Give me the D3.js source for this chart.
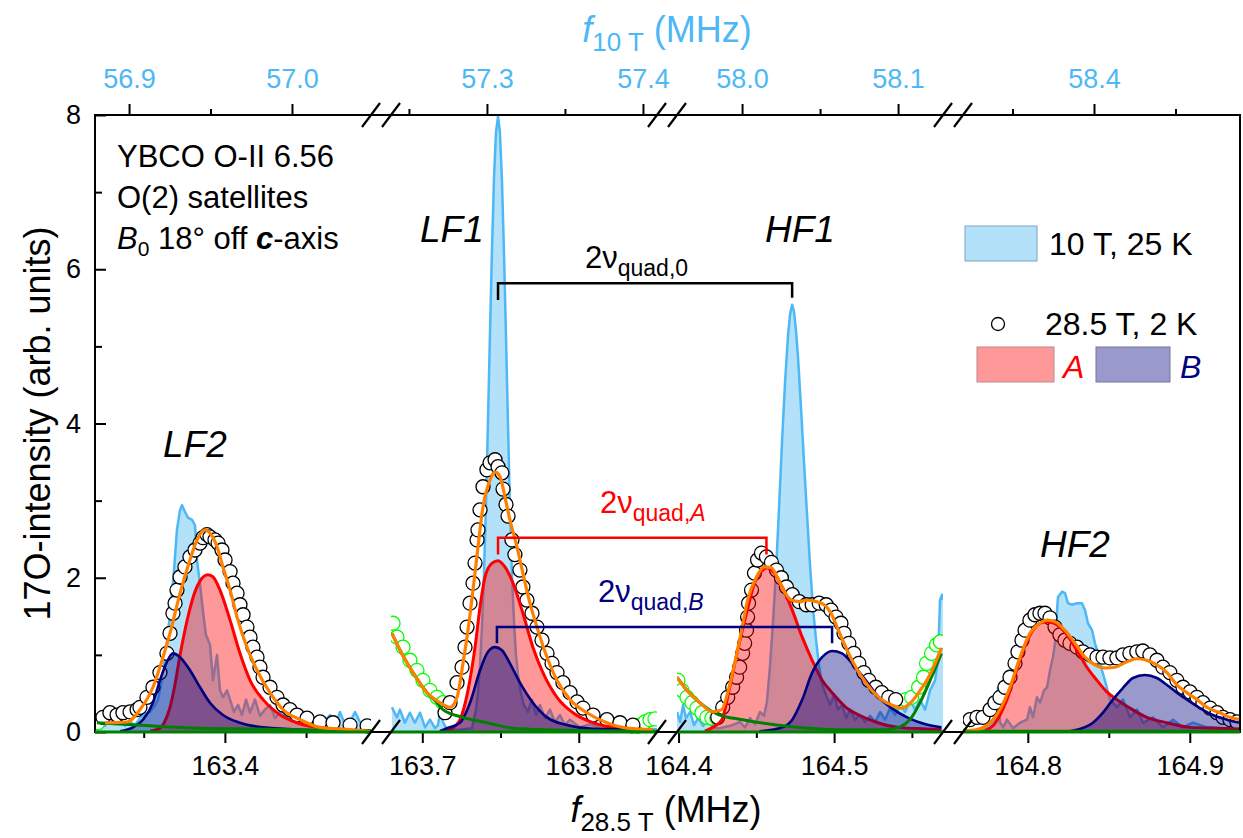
<!DOCTYPE html>
<html><head><meta charset="utf-8">
<script src="https://cdn.jsdelivr.net/npm/d3@7"></script>
<style>
body{margin:0;background:#fff;}
svg text{font-family:"Liberation Sans",Arial,Helvetica,sans-serif;}
</style></head><body>
<svg id="chart" width="1243" height="838"></svg>
<script>
// ---------------- axis data ----------------
const yMajorTicks = [0, 2, 4, 6, 8];
const yMinorTicks = [1, 3, 5, 7];
const bottomDomains = [[163.32, 163.49], [163.68, 163.85], [164.399, 164.57], [164.76, 164.931]];
const topDomains = [[56.8791, 57.0485], [57.2385, 57.409], [57.9583, 58.1288], [58.3196, 58.4896]];
const bottomMajorTicks = [[163.4], [163.7, 163.8], [164.4, 164.5], [164.8, 164.9]];
const bottomMinorTicks = [[163.35, 163.45], [163.75], [164.45, 164.55], [164.85]];
const topMajorTicks = [[56.9, 57.0], [57.3, 57.4], [58.0, 58.1], [58.4]];
const topMinorTicks = [[56.95], [57.25, 57.35], [58.05], [58.35, 58.45]];

// ---------------- 10 T spectrum (f10T, intensity) ----------------
const ten1 = [[56.8791,.10],[56.8822,.18],[56.8853,.08],[56.8883,.21],[56.8914,.10],[56.8945,.17],[56.8975,.08],[56.9006,.13],[56.9037,.09],[56.9067,.18],[56.9098,.23],[56.9129,.26],[56.9160,.35],[56.9178,.42],[56.9202,.67],[56.9227,1.06],[56.9252,1.54],[56.9276,2.10],[56.9294,2.62],[56.9313,2.88],[56.9325,2.94],[56.9344,2.85],[56.9362,2.78],[56.9387,2.75],[56.9405,2.68],[56.9417,2.23],[56.9436,1.91],[56.9454,1.56],[56.9472,1.26],[56.9497,1.13],[56.9515,.67],[56.9540,1.00],[56.9558,.54],[56.9577,.45],[56.9601,.54],[56.9620,.42],[56.9644,.26],[56.9669,.35],[56.9693,.22],[56.9718,.42],[56.9742,.25],[56.9773,.42],[56.9804,.21],[56.9834,.29],[56.9865,.35],[56.9896,.18],[56.9926,.26],[56.9969,.21],[57.0006,.13],[57.0049,.29],[57.0080,.13],[57.0123,.09],[57.0160,.18],[57.0196,.13],[57.0233,.22],[57.0270,.10],[57.0294,.26],[57.0325,.10],[57.0356,.13],[57.0387,.26],[57.0417,.13],[57.0448,.08],[57.0485,.08]];
const ten2 = [[57.2391,.32],[57.2423,.19],[57.2442,.29],[57.2474,.12],[57.2506,.25],[57.2538,.12],[57.2571,.25],[57.2603,.06],[57.2635,.16],[57.2667,.05],[57.2686,.09],[57.2699,.25],[57.2718,.13],[57.2744,.03],[57.2827,.03],[57.2904,.05],[57.2929,.28],[57.2942,.49],[57.2955,.84],[57.2968,1.35],[57.2981,2.06],[57.2994,2.95],[57.3006,3.98],[57.3019,5.13],[57.3032,6.23],[57.3045,7.17],[57.3058,7.78],[57.3071,7.98],[57.3083,7.78],[57.3096,7.17],[57.3109,6.23],[57.3122,5.13],[57.3135,3.98],[57.3147,2.95],[57.3160,2.06],[57.3173,1.45],[57.3186,1.00],[57.3199,.75],[57.3212,.55],[57.3237,.35],[57.3263,.26],[57.3288,.42],[57.3314,.22],[57.3340,.35],[57.3372,.18],[57.3404,.29],[57.3436,.13],[57.3468,.22],[57.3500,.09],[57.3532,.16],[57.3596,.06],[57.3660,.10],[57.3724,.05],[57.3853,.04],[57.4090,.04]];
const ten3 = [[57.9583,.26],[57.9603,.13],[57.9622,.35],[57.9641,.18],[57.9667,.26],[57.9692,.09],[57.9718,.18],[57.9750,.08],[57.9782,.16],[57.9814,.05],[57.9859,.05],[57.9923,.08],[57.9987,.13],[58.0019,.06],[58.0051,.18],[58.0083,.10],[58.0115,.26],[58.0141,.21],[58.0160,.40],[58.0179,.85],[58.0199,1.45],[58.0218,2.10],[58.0237,2.90],[58.0256,3.75],[58.0276,4.55],[58.0295,5.15],[58.0308,5.42],[58.0321,5.54],[58.0333,5.45],[58.0346,5.20],[58.0359,4.85],[58.0378,4.20],[58.0397,3.50],[58.0417,2.80],[58.0436,2.15],[58.0455,1.60],[58.0474,1.20],[58.0494,.85],[58.0513,.62],[58.0538,.48],[58.0564,.35],[58.0590,.48],[58.0615,.29],[58.0641,.35],[58.0667,.18],[58.0692,.29],[58.0724,.16],[58.0756,.22],[58.0788,.13],[58.0821,.21],[58.0853,.13],[58.0885,.26],[58.0917,.16],[58.0949,.31],[58.0981,.22],[58.1013,.35],[58.1045,.26],[58.1077,.42],[58.1109,.29],[58.1141,.42],[58.1173,.29],[58.1205,.54],[58.1237,.67],[58.1256,.93],[58.1269,1.71],[58.1282,1.78],[58.1288,1.71]];
const ten4 = [[58.3196,.03],[58.3270,.01],[58.3331,.04],[58.3362,.09],[58.3393,.16],[58.3411,.58],[58.3423,.13],[58.3442,.06],[58.3466,.16],[58.3503,.05],[58.3546,.12],[58.3589,.16],[58.3607,.32],[58.3626,.19],[58.3650,.45],[58.3669,.38],[58.3693,.54],[58.3712,.58],[58.3730,.80],[58.3748,.97],[58.3761,1.15],[58.3773,1.58],[58.3779,1.75],[58.3804,1.82],[58.3822,1.80],[58.3840,1.67],[58.3865,1.65],[58.3896,1.67],[58.3926,1.67],[58.3945,1.58],[58.3963,1.41],[58.3988,1.32],[58.4006,1.15],[58.4025,1.02],[58.4049,.80],[58.4067,.67],[58.4098,.42],[58.4141,.32],[58.4178,.42],[58.4221,.19],[58.4264,.29],[58.4301,.12],[58.4362,.19],[58.4423,.06],[58.4485,.16],[58.4546,.06],[58.4607,.12],[58.4693,.06],[58.4791,.05],[58.4896,.05]];

// ---------------- 28.5 T data points (f28.5T, intensity) ----------------
const pts1 = [[163.3249,.19],[163.3292,.25],[163.3336,.22],[163.3372,.25],[163.3416,.26],[163.3459,.29],[163.3477,.32],[163.3520,.45],[163.3557,.58],[163.3600,.77],[163.3643,1.02],[163.3662,1.28],[163.3680,1.54],[163.3693,1.67],[163.3705,1.84],[163.3724,2.01],[163.3754,2.14],[163.3785,2.27],[163.3816,2.36],[163.3847,2.45],[163.3865,2.52],[163.3890,2.56],[163.3908,2.53],[163.3939,2.49],[163.3958,2.45],[163.3982,2.36],[163.4001,2.23],[163.4032,2.08],[163.4050,1.93],[163.4075,1.80],[163.4093,1.65],[163.4112,1.52],[163.4136,1.36],[163.4155,1.23],[163.4173,1.10],[163.4198,.97],[163.4216,.84],[163.4235,.71],[163.4278,.58],[163.4321,.45],[163.4358,.35],[163.4401,.29],[163.4444,.22],[163.4506,.18],[163.4586,.13],[163.4666,.12],[163.4771,.09],[163.4876,.08]];
const pts2 = [[163.7145,.25],[163.7177,.38],[163.7222,.64],[163.7254,.84],[163.7273,1.10],[163.7286,1.36],[163.7305,1.67],[163.7324,1.93],[163.7337,2.19],[163.7350,2.49],[163.7356,2.62],[163.7369,2.88],[163.7388,3.18],[163.7413,3.40],[163.7433,3.49],[163.7465,3.53],[163.7484,3.44],[163.7509,3.36],[163.7516,3.15],[163.7535,2.95],[163.7548,2.80],[163.7573,2.49],[163.7592,2.30],[163.7624,2.10],[163.7643,1.88],[163.7669,1.71],[163.7701,1.54],[163.7733,1.36],[163.7765,1.19],[163.7797,1.02],[163.7829,.89],[163.7861,.77],[163.7899,.64],[163.7944,.51],[163.7989,.39],[163.8027,.31],[163.8091,.22],[163.8180,.16],[163.8263,.12],[163.8346,.09]];
const pts3 = [[164.4252,.19],[164.4284,.32],[164.4316,.45],[164.4348,.58],[164.4373,.71],[164.4393,.84],[164.4412,1.02],[164.4425,1.15],[164.4437,1.32],[164.4444,1.49],[164.4450,1.67],[164.4469,1.84],[164.4488,2.06],[164.4508,2.23],[164.4533,2.32],[164.4565,2.27],[164.4597,2.20],[164.4629,2.10],[164.4661,2.00],[164.4693,1.88],[164.4731,1.78],[164.4776,1.69],[164.4821,1.65],[164.4859,1.65],[164.4904,1.67],[164.4949,1.65],[164.4980,1.58],[164.5012,1.49],[164.5044,1.41],[164.5064,1.28],[164.5095,1.15],[164.5127,1.02],[164.5159,.89],[164.5191,.77],[164.5223,.67],[164.5268,.58],[164.5306,.51],[164.5351,.45],[164.5396,.42]];
const pts4 = [[164.7643,.16],[164.7686,.19],[164.7723,.19],[164.7767,.29],[164.7797,.38],[164.7828,.45],[164.7859,.58],[164.7890,.71],[164.7921,.89],[164.7939,1.04],[164.7964,1.19],[164.7983,1.32],[164.8013,1.45],[164.8044,1.52],[164.8075,1.54],[164.8106,1.54],[164.8137,1.48],[164.8168,1.36],[164.8198,1.26],[164.8229,1.19],[164.8260,1.15],[164.8303,1.10],[164.8340,1.04],[164.8384,1.00],[164.8427,.97],[164.8464,.97],[164.8507,.96],[164.8550,.96],[164.8587,1.00],[164.8630,1.02],[164.8673,1.04],[164.8710,1.05],[164.8754,1.00],[164.8797,.93],[164.8834,.84],[164.8877,.77],[164.8920,.67],[164.8958,.58],[164.9001,.52],[164.9044,.45],[164.9081,.38],[164.9125,.31],[164.9168,.25],[164.9205,.19],[164.9248,.16],[164.9291,.13]];
// neighbouring-line points (green)
const nb1 = [[163.3206,.15],[163.3218,.12]];
const nb2 = [[163.6813,1.41],[163.6838,1.23],[163.6877,1.10],[163.6921,.93],[163.6966,.80],[163.7004,.67],[163.7049,.54],[163.7094,.45],[163.7132,.38],[163.8359,.06],[163.8391,.09],[163.8423,.13],[163.8455,.16],[163.8487,.17]];
const nb3 = [[164.3996,.67],[164.4022,.54],[164.4054,.45],[164.4086,.38],[164.4118,.31],[164.4150,.25],[164.4182,.19],[164.4214,.18],[164.4246,.18],[164.5415,.39],[164.5460,.42],[164.5498,.45],[164.5543,.58],[164.5575,.71],[164.5594,.89],[164.5626,1.02],[164.5658,1.13],[164.5683,1.17]];
const nb4 = [];

// ---------------- fit components ----------------
const fitA1 = [[163.3539,.01],[163.3600,.05],[163.3631,.14],[163.3662,.32],[163.3693,.62],[163.3724,1.00],[163.3754,1.32],[163.3785,1.60],[163.3816,1.82],[163.3847,1.96],[163.3896,2.04],[163.3927,2.01],[163.3970,1.84],[163.4032,1.45],[163.4093,1.02],[163.4155,.67],[163.4235,.42],[163.4321,.25],[163.4444,.12],[163.4648,.04],[163.4894,.01]];
const fitB1 = [[163.3354,.01],[163.3434,.06],[163.3496,.16],[163.3557,.38],[163.3600,.67],[163.3643,.91],[163.3680,1.02],[163.3724,.97],[163.3785,.80],[163.3847,.58],[163.3908,.38],[163.3988,.22],[163.4093,.12],[163.4235,.06],[163.4463,.03],[163.4894,.01]];
const fitSum1 = [[163.3262,.12],[163.3397,.13],[163.3477,.29],[163.3557,.58],[163.3619,.97],[163.3662,1.28],[163.3724,1.80],[163.3785,2.23],[163.3828,2.49],[163.3878,2.62],[163.3908,2.58],[163.3952,2.40],[163.3988,2.14],[163.4032,1.84],[163.4075,1.49],[163.4136,1.10],[163.4198,.80],[163.4278,.51],[163.4358,.29],[163.4463,.16],[163.4586,.06],[163.4709,.04],[163.4894,.01]];
const fitBg1 = [[163.3212,.12],[163.3539,.08],[163.3847,.05],[163.4155,.04],[163.4463,.03],[163.4900,.02]];

const fitA2 = [[163.7113,.01],[163.7190,.05],[163.7241,.16],[163.7292,.54],[163.7337,1.10],[163.7369,1.62],[163.7401,2.01],[163.7446,2.19],[163.7484,2.22],[163.7528,2.14],[163.7580,1.93],[163.7643,1.54],[163.7707,1.10],[163.7771,.77],[163.7861,.45],[163.7963,.25],[163.8091,.12],[163.8263,.05],[163.8474,.03]];
const fitB2 = [[163.7113,.01],[163.7158,.05],[163.7241,.12],[163.7305,.38],[163.7369,.80],[163.7420,1.04],[163.7465,1.10],[163.7509,1.06],[163.7560,.89],[163.7624,.64],[163.7707,.38],[163.7797,.19],[163.7925,.09],[163.8091,.04],[163.8474,.03]];
const fitSum2 = [[163.6806,1.28],[163.6858,1.06],[163.6941,.77],[163.7030,.51],[163.7113,.38],[163.7177,.32],[163.7222,.45],[163.7260,.89],[163.7292,1.32],[163.7324,1.84],[163.7356,2.40],[163.7388,2.92],[163.7433,3.27],[163.7465,3.37],[163.7497,3.31],[163.7528,3.05],[163.7560,2.75],[163.7605,2.40],[163.7643,2.06],[163.7688,1.67],[163.7733,1.36],[163.7797,.97],[163.7861,.67],[163.7944,.42],[163.8052,.25],[163.8180,.12],[163.8308,.05],[163.8474,.03]];
const fitBg2 = [[163.6806,1.28],[163.6858,1.06],[163.6941,.77],[163.7030,.51],[163.7094,.38],[163.7132,.29],[163.7260,.19],[163.7413,.12],[163.7580,.05],[163.7797,.03],[163.8500,.01]];

const fitA3 = [[164.4169,.01],[164.4220,.06],[164.4278,.16],[164.4329,.58],[164.4380,1.06],[164.4437,1.54],[164.4488,1.93],[164.4540,2.10],[164.4572,2.13],[164.4616,2.06],[164.4667,1.88],[164.4731,1.58],[164.4795,1.23],[164.4859,.93],[164.4923,.67],[164.4987,.51],[164.5076,.32],[164.5159,.22],[164.5268,.13],[164.5415,.06],[164.5588,.04],[164.5690,.03]];
const fitB3 = [[164.4520,.01],[164.4667,.06],[164.4731,.16],[164.4795,.42],[164.4859,.77],[164.4923,.97],[164.4987,1.05],[164.5051,1.02],[164.5115,.89],[164.5204,.67],[164.5287,.45],[164.5370,.31],[164.5479,.18],[164.5588,.10],[164.5690,.06]];
const fitSum3 = [[164.3990,.71],[164.4054,.54],[164.4137,.38],[164.4220,.26],[164.4278,.29],[164.4316,.51],[164.4361,.89],[164.4405,1.32],[164.4444,1.71],[164.4501,2.01],[164.4552,2.14],[164.4597,2.13],[164.4636,2.00],[164.4680,1.82],[164.4725,1.71],[164.4776,1.69],[164.4827,1.71],[164.4885,1.69],[164.4936,1.65],[164.4980,1.54],[164.5019,1.36],[164.5064,1.15],[164.5115,.93],[164.5179,.71],[164.5242,.54],[164.5306,.42],[164.5370,.35],[164.5434,.31],[164.5492,.38],[164.5543,.51],[164.5607,.71],[164.5658,.93],[164.5690,1.09]];
const fitBg3 = [[164.3990,.71],[164.4054,.54],[164.4137,.38],[164.4220,.26],[164.4252,.23],[164.4412,.16],[164.4629,.09],[164.4840,.05],[164.5051,.03],[164.5332,.03],[164.5415,.06],[164.5498,.19],[164.5562,.42],[164.5626,.71],[164.5690,1.02]];

const fitA4 = [[164.7736,.02],[164.7785,.08],[164.7828,.22],[164.7871,.42],[164.7933,.82],[164.7983,1.12],[164.8032,1.32],[164.8087,1.42],[164.8124,1.43],[164.8180,1.39],[164.8242,1.26],[164.8303,1.06],[164.8365,.84],[164.8427,.67],[164.8488,.52],[164.8550,.42],[164.8630,.31],[164.8735,.19],[164.8859,.12],[164.9001,.06],[164.9168,.05],[164.9310,.04]];
const fitB4 = [[164.8260,.01],[164.8322,.04],[164.8402,.12],[164.8464,.25],[164.8525,.42],[164.8587,.57],[164.8649,.70],[164.8723,.74],[164.8797,.70],[164.8859,.61],[164.8920,.51],[164.8982,.42],[164.9063,.31],[164.9143,.22],[164.9230,.16],[164.9310,.12]];
const fitSum4 = [[164.7600,.01],[164.7686,.03],[164.7767,.12],[164.7828,.29],[164.7890,.58],[164.7952,.97],[164.8013,1.28],[164.8075,1.41],[164.8118,1.45],[164.8168,1.43],[164.8229,1.32],[164.8291,1.15],[164.8353,.97],[164.8414,.87],[164.8476,.83],[164.8538,.84],[164.8612,.91],[164.8673,.95],[164.8735,.93],[164.8797,.87],[164.8859,.77],[164.8920,.61],[164.8982,.51],[164.9044,.42],[164.9106,.32],[164.9186,.25],[164.9248,.19],[164.9310,.16]];
const fitBg4 = [[164.7600,.01],[164.9310,.01]];

// ---------------- annotation data ----------------
const peakNames = ["LF2", "LF1", "HF1", "HF2"];
// [f10 left (panel 2), f10 right (panel 3), bar level, left leg end, right leg end]
const quad0Bracket = [57.3071, 58.0321, 5.82, 5.60, 5.63];
// [f28.5 left (panel 2), f28.5 right (panel 3), bar level, leg end]
const quadABracket = [163.7484, 164.4565, 2.52, 2.30];
const quadBBracket = [163.7477, 164.4987, 1.36, 1.15];

// ---------------- layout ----------------
const svg = d3.select("#chart");
const plotTop = 115, plotBottom = 732, plotLeft = 95, plotRight = 1240;
const panelPx = [[95, 371], [391, 657], [677, 943], [963, 1240]];
const lightBlue = "#4db8f5";
const y = d3.scaleLinear().domain([0, 8]).range([plotBottom, plotTop]);

const tenSets = [ten1, ten2, ten3, ten4];
const ptSets = [pts1, pts2, pts3, pts4];
const nbSets = [nb1, nb2, nb3, nb4];
const aSets = [fitA1, fitA2, fitA3, fitA4];
const bSets = [fitB1, fitB2, fitB3, fitB4];
const sumSets = [fitSum1, fitSum2, fitSum3, fitSum4];
const bgSets = [fitBg1, fitBg2, fitBg3, fitBg4];

const panels = panelPx.map((px, i) => ({
  px,
  xb: d3.scaleLinear().domain(bottomDomains[i]).range(px),
  xt: d3.scaleLinear().domain(topDomains[i]).range(px)
}));

const defs = svg.append("defs");

panels.forEach((p, i) => {
  defs.append("clipPath").attr("id", "clip" + i).append("rect")
    .attr("x", p.px[0]).attr("y", plotTop - 2)
    .attr("width", p.px[1] - p.px[0]).attr("height", plotBottom - plotTop + 4);
  const g = svg.append("g").attr("clip-path", `url(#clip${i})`);
  const xb = p.xb, xt = p.xt;

  // 10 T spectrum
  g.append("path").datum(tenSets[i])
    .attr("d", d3.area().x(d => xt(d[0])).y0(y(0)).y1(d => y(d[1])))
    .attr("fill", "#b4e1fa");
  g.append("path").datum(tenSets[i])
    .attr("d", d3.line().x(d => xt(d[0])).y(d => y(d[1])))
    .attr("fill", "none").attr("stroke", lightBlue).attr("stroke-width", 2.5)
    .attr("stroke-linejoin", "round");

  // data points
  g.selectAll("circle.nb").data(nbSets[i]).join("circle").attr("class", "nb")
    .attr("cx", d => xb(d[0])).attr("cy", d => y(d[1])).attr("r", 7)
    .attr("fill", "#fff").attr("stroke", "#00ff00").attr("stroke-width", 1.3);
  g.selectAll("circle.pt").data(ptSets[i]).join("circle").attr("class", "pt")
    .attr("cx", d => xb(d[0])).attr("cy", d => y(d[1])).attr("r", 7)
    .attr("fill", "#fff").attr("stroke", "#000").attr("stroke-width", 1.3);

  const area = d3.area().curve(d3.curveMonotoneX).x(d => xb(d[0])).y0(y(0)).y1(d => y(d[1]));
  const line = d3.line().curve(d3.curveMonotoneX).x(d => xb(d[0])).y(d => y(d[1]));

  // component A
  g.append("path").datum(aSets[i]).attr("d", area).attr("fill", "rgba(255,0,0,0.4)");
  g.append("path").datum(aSets[i]).attr("d", line).attr("fill", "none")
    .attr("stroke", "#ff0000").attr("stroke-width", 3);
  // component B
  g.append("path").datum(bSets[i]).attr("d", area).attr("fill", "rgba(0,0,128,0.4)");
  g.append("path").datum(bSets[i]).attr("d", line).attr("fill", "none")
    .attr("stroke", "#000080").attr("stroke-width", 2.6);
  // background
  g.append("path").datum(bgSets[i]).attr("d", line).attr("fill", "none")
    .attr("stroke", "#008000").attr("stroke-width", 3);
  // total fit
  g.append("path").datum(sumSets[i]).attr("d", line).attr("fill", "none")
    .attr("stroke", "#ff8000").attr("stroke-width", 3.2);
});

// ---------------- axes ----------------
const axisG = svg.append("g");
function styleAxis(sel, color) {
  sel.select(".domain").remove();
  sel.selectAll(".tick line").attr("stroke", "#000").attr("stroke-width", 2);
  sel.selectAll(".tick text").attr("font-size", 27).attr("fill", color)
    .attr("font-family", "Liberation Sans, Arial, sans-serif");
}
panels.forEach((p, i) => {
  axisG.append("g").attr("transform", `translate(0,${plotBottom})`)
    .call(d3.axisBottom(p.xb).tickValues(bottomMajorTicks[i]).tickSize(11).tickPadding(13).tickFormat(d3.format(".1f")))
    .call(s => styleAxis(s, "#000"));
  axisG.append("g").attr("transform", `translate(0,${plotBottom})`)
    .call(d3.axisBottom(p.xb).tickValues(bottomMinorTicks[i]).tickSize(6).tickFormat(""))
    .call(s => styleAxis(s, "#000"));
  axisG.append("g").attr("transform", `translate(0,${plotTop})`)
    .call(d3.axisTop(p.xt).tickValues(topMajorTicks[i]).tickSize(11).tickPadding(16).tickFormat(d3.format(".1f")))
    .call(s => styleAxis(s, lightBlue));
  axisG.append("g").attr("transform", `translate(0,${plotTop})`)
    .call(d3.axisTop(p.xt).tickValues(topMinorTicks[i]).tickSize(6).tickFormat(""))
    .call(s => styleAxis(s, lightBlue));
});
axisG.append("g").attr("transform", `translate(${plotLeft},0)`)
  .call(d3.axisLeft(y).tickValues(yMajorTicks).tickSize(-11).tickPadding(14).tickFormat(d3.format("d")))
  .call(s => styleAxis(s, "#000"));
axisG.append("g").attr("transform", `translate(${plotLeft},0)`)
  .call(d3.axisLeft(y).tickValues(yMinorTicks).tickSize(-7).tickFormat(""))
  .call(s => styleAxis(s, "#000"));

// frame
svg.append("rect").attr("x", plotLeft).attr("y", plotTop)
  .attr("width", plotRight - plotLeft).attr("height", plotBottom - plotTop)
  .attr("fill", "none").attr("stroke", "#000").attr("stroke-width", 2);

// zero (baseline) lines in green
panels.forEach(p => {
  svg.append("line").attr("x1", p.px[0]).attr("x2", p.px[1])
    .attr("y1", y(0)).attr("y2", y(0)).attr("stroke", "#008000").attr("stroke-width", 3);
});

// break marks
const breaks = [];
for (let i = 0; i < panelPx.length - 1; i++) { breaks.push(panelPx[i][1], panelPx[i + 1][0]); }
[plotTop, plotBottom].forEach(yy => {
  breaks.forEach(cx => {
    svg.append("line").attr("x1", cx - 9).attr("y1", yy + 12).attr("x2", cx + 9).attr("y2", yy - 12)
      .attr("stroke", "#000").attr("stroke-width", 2.2);
  });
});

// ---------------- brackets ----------------
function bracket(x1, x2, yBar, yLeg1, yLeg2, color, w) {
  svg.append("path")
    .attr("d", `M${x1},${yLeg1}V${yBar}H${x2}V${yLeg2}`)
    .attr("fill", "none").attr("stroke", color).attr("stroke-width", w);
}
bracket(panels[1].xt(quad0Bracket[0]), panels[2].xt(quad0Bracket[1]), y(quad0Bracket[2]), y(quad0Bracket[3]), y(quad0Bracket[4]), "#000", 2.5);
bracket(panels[1].xb(quadABracket[0]), panels[2].xb(quadABracket[1]), y(quadABracket[2]), y(quadABracket[3]), y(quadABracket[3]), "#ff0000", 2.5);
bracket(panels[1].xb(quadBBracket[0]), panels[2].xb(quadBBracket[1]), y(quadBBracket[2]), y(quadBBracket[3]), y(quadBBracket[3]), "#000080", 2.5);

function quadLabel(x, yy, color, subPlain, subItalic) {
  const t = svg.append("text").attr("x", x).attr("y", yy).attr("fill", color).attr("font-size", 31);
  t.append("tspan").text("2\u03bd");
  t.append("tspan").attr("font-size", 23).attr("dy", 8).text(subPlain);
  if (subItalic) t.append("tspan").attr("font-size", 23).attr("font-style", "italic").text(subItalic);
}
quadLabel(585, 268, "#000", "quad,0", null);
quadLabel(600, 513, "#ff0000", "quad,", "A");
quadLabel(598, 602, "#000080", "quad,", "B");

// ---------------- peak labels ----------------
const peakLabelPos = [[163, 457], [420, 242], [765, 242], [1040, 557]];
peakNames.forEach((n, i) => {
  svg.append("text").attr("x", peakLabelPos[i][0]).attr("y", peakLabelPos[i][1])
    .attr("font-size", 37).attr("font-style", "italic").text(n);
});

// ---------------- info text ----------------
svg.append("text").attr("x", 117).attr("y", 167).attr("font-size", 31).text("YBCO O-II 6.56");
svg.append("text").attr("x", 117).attr("y", 208).attr("font-size", 31).text("O(2) satellites");
const l3 = svg.append("text").attr("x", 117).attr("y", 249).attr("font-size", 31);
l3.append("tspan").attr("font-style", "italic").text("B");
l3.append("tspan").attr("font-size", 21).attr("dy", 7).text("0");
l3.append("tspan").attr("dy", -7).text(" 18\u00b0 off ");
l3.append("tspan").attr("font-style", "italic").attr("font-weight", "bold").text("c");
l3.append("tspan").text("-axis");

// ---------------- legend ----------------
svg.append("rect").attr("x", 965).attr("y", 226).attr("width", 72).attr("height", 35)
  .attr("fill", "#b4e1fa").attr("stroke", "#7fa3bb").attr("stroke-width", 1);
svg.append("text").attr("x", 1049).attr("y", 255).attr("font-size", 32).text("10 T, 25 K");
svg.append("circle").attr("cx", 998).attr("cy", 324).attr("r", 6.5)
  .attr("fill", "#fff").attr("stroke", "#000").attr("stroke-width", 1.3);
svg.append("text").attr("x", 1045).attr("y", 335).attr("font-size", 32).text("28.5 T, 2 K");
svg.append("rect").attr("x", 977).attr("y", 347).attr("width", 77).attr("height", 35)
  .attr("fill", "rgba(255,0,0,0.4)").attr("stroke", "#b88").attr("stroke-width", 1);
svg.append("text").attr("x", 1063).attr("y", 378).attr("font-size", 32).attr("font-style", "italic")
  .attr("fill", "#ff0000").text("A");
svg.append("rect").attr("x", 1096).attr("y", 347).attr("width", 74).attr("height", 35)
  .attr("fill", "rgba(0,0,128,0.4)").attr("stroke", "#779").attr("stroke-width", 1);
svg.append("text").attr("x", 1180).attr("y", 378).attr("font-size", 32).attr("font-style", "italic")
  .attr("fill", "#000080").text("B");

// ---------------- axis titles ----------------
const bt = svg.append("text").attr("x", 666).attr("y", 822).attr("text-anchor", "middle").attr("font-size", 36);
bt.append("tspan").attr("font-style", "italic").text("f");
bt.append("tspan").attr("font-size", 26).attr("dy", 9).text("28.5 T");
bt.append("tspan").attr("dy", -9).text(" (MHz)");

const tt = svg.append("text").attr("x", 667).attr("y", 42).attr("text-anchor", "middle")
  .attr("font-size", 36).attr("fill", lightBlue);
tt.append("tspan").attr("font-style", "italic").text("f");
tt.append("tspan").attr("font-size", 26).attr("dy", 9).text("10 T");
tt.append("tspan").attr("dy", -9).text(" (MHz)");

svg.append("text").attr("transform", `translate(50,${(plotTop + plotBottom) / 2}) rotate(-90)`)
  .attr("text-anchor", "middle").attr("font-size", 36).text("17O-intensity (arb. units)");
</script>
</body></html>
